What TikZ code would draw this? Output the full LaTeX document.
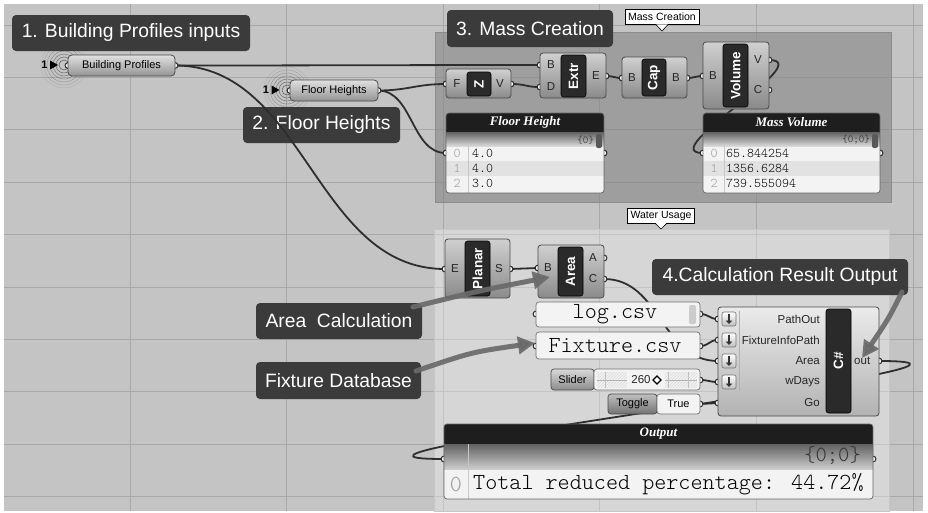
\documentclass[tikz,border=0pt]{standalone}
\usepackage{fontspec}
\setmainfont{Liberation Sans}
\newfontfamily\ghmono{Latin Modern Mono Light}
\newfontfamily\ghserif{Liberation Serif}
\usetikzlibrary{arrows.meta,patterns}

\definecolor{canvas}{HTML}{C4C4C4}
\definecolor{gridc}{HTML}{A8A8A8}
\definecolor{notec}{HTML}{3B3B3B}
\definecolor{wirec}{HTML}{2E2E2E}
\definecolor{edgec}{HTML}{4A4A4A}
\definecolor{compT}{HTML}{D0D0D0}
\definecolor{compB}{HTML}{8A8A8A}
\definecolor{corec}{HTML}{2A2A2A}
\definecolor{hintc}{HTML}{6A6A6A}
\definecolor{rowA}{HTML}{F3F3F3}
\definecolor{rowB}{HTML}{E2E2E2}
\definecolor{idxc}{HTML}{9A9A9A}
\definecolor{titlec}{HTML}{1E1E1E}

\tikzset{
  note/.style={fill=notec, rounded corners=4pt, text=white, inner sep=0pt,
    font=\fontsize{19.3}{21}\selectfont},
  comp/.style={draw=edgec, line width=0.8pt, rounded corners=3pt,
    top color=compT, bottom color=compB, inner sep=0pt},
  core/.style={fill=corec, draw=black, line width=0.6pt, rounded corners=2.5pt, inner sep=0pt},
  coretext/.style={text=white, font=\bfseries\fontsize{13.5}{13.5}\selectfont, rotate=90, inner sep=0pt},
  plabel/.style={font=\fontsize{11.5}{11.5}\selectfont, text=black!85, inner sep=0pt},
  param/.style={draw=edgec, line width=0.8pt, rounded corners=4pt,
    top color=black!12, bottom color=black!42, inner sep=0pt,
    font=\fontsize{11}{11}\selectfont},
  portc/.style={draw=black!85, fill=white, line width=1pt},
  wire/.style={draw=wirec, line width=1.8pt},
  hint/.style={draw=hintc, line width=5pt, line cap=round, opacity=.92,
    -{Triangle[length=17pt,width=17pt]}},
  tip/.style={draw=black, fill=white, line width=.6pt, inner xsep=3pt, inner ysep=0pt,
    minimum height=15pt, font=\fontsize{10.5}{10.5}\selectfont},
  strpanel/.style={draw=black!55, fill=rowA, rounded corners=3pt, line width=.7pt, inner sep=0pt},
  btn/.style={draw=edgec, line width=.7pt, rounded corners=3pt, top color=black!15,
    bottom color=black!45, inner sep=0pt, font=\fontsize{11}{11}\selectfont},
  valbox/.style={draw=black!55, line width=.7pt, rounded corners=3pt, fill=rowA,
    inner sep=0pt, font=\fontsize{11}{11}\selectfont},
  icon/.style={draw=black!55, line width=.6pt, rounded corners=2pt, top color=white,
    bottom color=black!25, minimum width=14pt, minimum height=14pt, inner sep=0pt},
  monosm/.style={font=\ghmono\fontsize{13.3}{13.3}\selectfont, inner sep=0pt},
  monobig/.style={font=\ghmono\fontsize{23}{23}\selectfont, inner sep=0pt},
  ptitle/.style={font=\ghserif\bfseries\itshape\fontsize{13}{13}\selectfont, text=white, inner sep=0pt},
}

\begin{document}
\begin{tikzpicture}[x=1pt,y=-1pt]
\useasboundingbox (0,0) rectangle (928,512);
\fill[white] (0,0) rectangle (928,512);
\fill[canvas] (4,4) rectangle (923,511);

% canvas grid
\begin{scope}
  \clip (4,4) rectangle (923,511);
  \foreach \gx in {130,286.6,443.2,599.8,756.4,913}
    \draw[gridc, line width=.8pt] (\gx,4) -- (\gx,511);
  \foreach \gy in {25,77.4,129.8,182.2,234.6,287,339.4,391.8,444.2,496.6}
    \draw[gridc, line width=.8pt] (4,\gy) -- (923,\gy);
\end{scope}

% groups
\fill[black!50, opacity=.55] (435,32) rectangle (891,202);
\draw[black!45, line width=.6pt] (435,32) rectangle (891,202);
\fill[white, opacity=.32] (434,229) rectangle (889,511);
\draw[black!22, line width=.6pt] (434,229) rectangle (889,511);

% group tooltips
\node[tip] (tipmc) at (662,17) {Mass Creation};
\fill[white] (656,24.4) -- (662,31) -- (668,24.4) -- cycle;
\draw[line width=.6pt] (656,24.6) -- (662,31) -- (668,24.6);
\node[tip] (tipwu) at (661,215.5) {Water Usage};
\fill[white] (655,222.9) -- (661,229) -- (667,222.9) -- cycle;
\draw[line width=.6pt] (655,223.1) -- (661,229) -- (667,223.1);

% ripples around the input parameters
\foreach \r/\o in {5/.55,8/.45,11/.38,14/.3,17/.22,20/.14,23/.08}{
  \draw[black, opacity=\o, line width=.5pt] (64,65) circle[radius=\r pt];
  \draw[black, opacity=\o, line width=.5pt] (287,90) circle[radius=\r pt];
}

% note that the wires run across
\node[note, minimum width=157pt, minimum height=36pt] (n2) at (321.5,125) {2. Floor Heights};

% port positions
\coordinate (bp-in) at (68,65.5);
\coordinate (bp-out) at (175,65.5);
\coordinate (fh-in) at (290,90.5);
\coordinate (fh-out) at (378,90.5);
\coordinate (uz-F) at (446,84);
\coordinate (uz-V) at (511,84);
\coordinate (ex-B) at (540,65);
\coordinate (ex-D) at (540,87);
\coordinate (ex-E) at (606,76);
\coordinate (cp-B) at (622,78);
\coordinate (cp-Bo) at (687,78);
\coordinate (vo-B) at (703,76);
\coordinate (vo-V) at (769,60);
\coordinate (vo-C) at (769,90);
\coordinate (fp-in) at (446,153);
\coordinate (fp-out) at (604,153);
\coordinate (mv-in) at (703,153);
\coordinate (mv-out) at (880,153);
\coordinate (pl-E) at (445,269);
\coordinate (pl-S) at (510,269);
\coordinate (ar-B) at (538,268);
\coordinate (ar-A) at (604,258);
\coordinate (ar-C) at (604,279);
\coordinate (lg-in) at (536,314);
\coordinate (lg-out) at (700,314);
\coordinate (fx-in) at (536,346);
\coordinate (fx-out) at (700,346);
\coordinate (sl-out) at (700,380);
\coordinate (tg-out) at (700,404);
\coordinate (cs-1) at (718,319);
\coordinate (cs-2) at (718,340);
\coordinate (cs-3) at (718,361);
\coordinate (cs-4) at (718,382);
\coordinate (cs-5) at (718,403);
\coordinate (cs-out) at (879,361);
\coordinate (op-in) at (444,459);
\coordinate (op-out) at (873,459);

% wires
\draw[wire] (bp-out) .. controls +(120,0) and +(-120,0) .. (ex-B);
\draw[wire] (bp-out) .. controls +(130,0) and +(-130,0) .. (pl-E);
\draw[wire] (fh-out) .. controls +(30,0) and +(-30,0) .. (uz-F);
\draw[wire] (fh-out) .. controls +(35,0) and +(-35,0) .. (fp-in);
\draw[wire] (uz-V) .. controls +(15,0) and +(-15,0) .. (ex-D);
\draw[wire] (ex-E) .. controls +(8,0) and +(-8,0) .. (cp-B);
\draw[wire] (cp-Bo) .. controls +(8,0) and +(-8,0) .. (vo-B);
\draw[wire] (vo-V) .. controls +(50,0) and +(-50,0) .. (mv-in);
\draw[wire] (pl-S) .. controls +(14,0) and +(-14,0) .. (ar-B);
\draw[wire] (ar-C) .. controls +(57,0) and +(-57,0) .. (cs-3);
\draw[wire] (lg-out) .. controls +(9,0) and +(-9,0) .. (cs-1);
\draw[wire] (fx-out) .. controls +(9,0) and +(-9,0) .. (cs-2);
\draw[wire] (sl-out) .. controls +(9,0) and +(-9,0) .. (cs-4);
\draw[wire] (tg-out) .. controls +(9,0) and +(-9,0) .. (cs-5);
\draw[wire] (cs-out) .. controls +(200,0) and +(-200,0) .. (op-in);

% ports
\foreach \p in {bp-in,bp-out,fh-in,fh-out,uz-F,uz-V,ex-B,ex-D,ex-E,cp-B,cp-Bo,vo-B,vo-V,vo-C,
  fp-in,fp-out,mv-in,mv-out,pl-E,pl-S,ar-B,ar-A,ar-C,lg-in,lg-out,fx-in,fx-out,sl-out,tg-out,
  cs-1,cs-2,cs-3,cs-4,cs-5,cs-out,op-in,op-out}
  \filldraw[portc] (\p) circle[radius=2.9pt];

% input parameters
\node[font=\bfseries\fontsize{11}{11}\selectfont, inner sep=0pt] (one1) at (44.5,65) {1};
\fill (50,60.5) -- (58,65) -- (50,69.5) -- cycle;
\node[param, minimum width=107pt, minimum height=21pt] (bp) at (121.5,65.5) {Building Profiles};
\node[font=\bfseries\fontsize{11}{11}\selectfont, inner sep=0pt] (one2) at (266,90) {1};
\fill (271.5,85.5) -- (279.5,90) -- (271.5,94.5) -- cycle;
\node[param, minimum width=88pt, minimum height=21pt] (fh) at (334,90.5) {Floor Heights};

% Unit Z
\node[comp, minimum width=65pt, minimum height=29pt] (uz) at (478.5,83.5) {};
\node[core, minimum width=24pt, minimum height=24pt] (uzc) at (479,84) {};
\node[coretext] (uzt) at (uzc) {Z};
\node[plabel] (uzf) at (457,84) {F};
\node[plabel] (uzv) at (500,84) {V};

% Extrude
\node[comp, minimum width=66pt, minimum height=45pt] (ex) at (573,75.5) {};
\node[core, minimum width=25pt, minimum height=42pt] (exc) at (573.5,76) {};
\node[coretext] (ext) at (exc) {Extr};
\node[plabel] (exb) at (551,65) {B};
\node[plabel] (exd) at (551,87) {D};
\node[plabel] (exe) at (596,76) {E};

% Cap
\node[comp, minimum width=65pt, minimum height=41pt] (cp) at (654.5,77.5) {};
\node[core, minimum width=24pt, minimum height=37pt] (cpc) at (654,77.5) {};
\node[coretext] (cpt) at (cpc) {Cap};
\node[plabel] (cpb) at (632,78) {B};
\node[plabel] (cpbo) at (676,78) {B};

% Volume
\node[comp, minimum width=66pt, minimum height=67pt] (vo) at (736,75.5) {};
\node[core, minimum width=25pt, minimum height=63pt] (voc) at (735.5,75.5) {};
\node[coretext] (vot) at (voc) {Volume};
\node[plabel] (vob) at (713,76) {B};
\node[plabel] (vov) at (758,60) {V};
\node[plabel] (voc2) at (758,90) {C};

% Floor Height panel
\begin{scope}
  \clip[rounded corners=3pt] (446,113) rectangle (604,193);
  \fill[rowA] (446,113) rectangle (604,193);
  \fill[titlec] (446,113) rectangle (604,132);
  \shade[top color=black!62, bottom color=black!15] (446,132) rectangle (604,146);
  \fill[rowB] (446,161) rectangle (604,176);
  \draw[black!22, line width=.5pt] (468,146) -- (468,193);
\end{scope}
\draw[black!60, line width=.7pt, rounded corners=3pt] (446,113) rectangle (604,193);
\fill[black!65, rounded corners=2pt] (596,134) rectangle (602,148);
\node[ptitle] (fpt) at (525,122.5) {Floor Height};
\node[monosm, font=\ghmono\fontsize{10.5}{10.5}\selectfont, text=black!85, anchor=east] (fpk) at (594,140) {\{0\}};
\foreach \i/\v/\yy in {0/4.0/153.5,1/4.0/168.5,2/3.0/183.5}{
  \node[monosm, text=idxc] at (457,\yy) {\i};
  \node[monosm, anchor=west] at (472,\yy) {\v};
}

% Mass Volume panel
\begin{scope}
  \clip[rounded corners=3pt] (703,113) rectangle (880,193);
  \fill[rowA] (703,113) rectangle (880,193);
  \fill[titlec] (703,113) rectangle (880,132);
  \shade[top color=black!62, bottom color=black!15] (703,132) rectangle (880,146);
  \fill[rowB] (703,161) rectangle (880,176);
  \draw[black!22, line width=.5pt] (724,146) -- (724,193);
\end{scope}
\draw[black!60, line width=.7pt, rounded corners=3pt] (703,113) rectangle (880,193);
\fill[black!65, rounded corners=2pt] (872,134) rectangle (878,148);
\node[ptitle] (mvt) at (791.5,122.5) {Mass Volume};
\node[monosm, font=\ghmono\fontsize{10.5}{10.5}\selectfont, text=black!85, anchor=east] (mvk) at (870,140) {\{0;0\}};
\foreach \i/\v/\yy in {0/65.844254/153.5,1/1356.6284/168.5,2/739.555094/183.5}{
  \node[monosm, text=idxc] at (714,\yy) {\i};
  \node[monosm, anchor=west] at (726,\yy) {\v};
}

% Planar surface
\node[comp, minimum width=65pt, minimum height=59pt] (pl) at (477.5,268.5) {};
\node[core, minimum width=25pt, minimum height=55pt] (plc) at (477.5,268.5) {};
\node[coretext] (plt) at (plc) {Planar};
\node[plabel] (ple) at (455,269) {E};
\node[plabel] (pls) at (499,269) {S};

% Area
\node[comp, minimum width=66pt, minimum height=53pt] (ar) at (571,271.5) {};
\node[core, minimum width=25pt, minimum height=49pt] (arc) at (570.5,271.5) {};
\node[coretext] (art) at (arc) {Area};
\node[plabel] (arb) at (548,268) {B};
\node[plabel] (ara) at (593,258) {A};
\node[plabel] (arcl) at (593,279) {C};

% file path panels
\node[strpanel, minimum width=164pt, minimum height=25pt] (lg) at (618,314.5) {};
\fill[black!20, rounded corners=2pt] (689,305) rectangle (696,324);
\node[monobig] (lgt) at (615,314) {log.csv};
\node[strpanel, minimum width=164pt, minimum height=27pt] (fx) at (618,345.5) {};
\node[monobig] (fxt) at (615,345.5) {Fixture.csv};

% number slider
\node[btn, minimum width=43pt, minimum height=21pt] (slb) at (572.5,379.5) {Slider};
\node[valbox, minimum width=106pt, minimum height=21pt] (slt) at (647,379.5) {};
\fill[pattern=north east lines, pattern color=black!15] (597,372) rectangle (697,387);
\draw[black!30, line width=.5pt] (597,380) -- (697,380);
\foreach \tx in {605,630,668,688}
  \draw[black!25, line width=.5pt] (\tx,371.5) -- (\tx,387.5);
\fill[rowA] (627,372) rectangle (665,388);
\node[plabel] (slv) at (641,380) {260};
\draw[line width=1.3pt, fill=white] (657,376) -- (661,380) -- (657,384) -- (653,380) -- cycle;

% boolean toggle
\node[btn, top color=black!25, bottom color=black!55, minimum width=49pt, minimum height=20pt] (tgb) at (632.5,404) {Toggle};
\node[valbox, minimum width=43pt, minimum height=20pt] (tgv) at (678.5,404) {True};

% C# script component
\node[comp, top color=black!8, bottom color=black!30, minimum width=161pt, minimum height=109pt] (cs) at (798.5,361.5) {};
\node[core, minimum width=25pt, minimum height=104pt] (csc) at (838.5,361) {};
\node[coretext] (cst) at (csc) {C\#};
\draw[black!30, line width=.6pt] (739.5,311) -- (739.5,391);
\foreach \k/\yy in {1/319,2/340,3/361,4/382}{
  \node[icon] (ic\k) at (729,\yy) {};
  \draw[black!80, line width=1.5pt, -{Triangle[length=3.5pt,width=6.5pt]}] (729,\yy-5) -- (729,\yy+5);
}
\node[plabel, anchor=east] (csl1) at (820,319) {PathOut};
\node[plabel, anchor=east] (csl2) at (820,340) {FixtureInfoPath};
\node[plabel, anchor=east] (csl3) at (820,361) {Area};
\node[plabel, anchor=east] (csl4) at (820,382) {wDays};
\node[plabel, anchor=east] (csl5) at (820,403) {Go};
\node[plabel, anchor=west] (cslo) at (854,361) {out};

% Output panel
\begin{scope}
  \clip[rounded corners=3pt] (444,424) rectangle (873,499);
  \fill[rowA] (444,424) rectangle (873,499);
  \fill[titlec] (444,424) rectangle (873,444);
  \shade[top color=black!62, bottom color=black!20] (444,444) rectangle (873,469);
  \draw[black!22, line width=.5pt] (468,444) -- (468,499);
\end{scope}
\draw[black!60, line width=.7pt, rounded corners=3pt] (444,424) rectangle (873,499);
\node[ptitle] (opt) at (658.5,434) {Output};
\node[monobig, font=\ghmono\fontsize{21.5}{21.5}\selectfont, text=black!80, anchor=east] (opk) at (861,456) {\{0;0\}};
\node[monobig, text=idxc] (opi) at (456,484) {0};
\node[monobig, anchor=west] (opv) at (473,484) {Total reduced percentage: 44.72\%};

% notes
\node[note, minimum width=238pt, minimum height=36pt] (n1) at (131,33) {1. Building Profiles inputs};
\node[note, minimum width=166pt, minimum height=37pt] (n3) at (530,28.5) {3. Mass Creation};
\node[note, minimum width=256pt, minimum height=36pt] (n4) at (780,277) {4.Calculation Result Output};
\node[note, minimum width=166pt, minimum height=36pt] (na) at (339,321) {Area\ \ Calculation};
\node[note, minimum width=165pt, minimum height=37pt] (nf) at (338.5,380.5) {Fixture Database};

% pointer arrows
\coordinate (ha-s) at (413,307);
\coordinate (ha-e) at (550,277);
\coordinate (hf-s) at (416,371);
\coordinate (hf-e) at (535,343);
\coordinate (hc-s) at (902,292);
\coordinate (hc-e) at (862,358);
\draw[hint] (ha-s) .. controls (478,291) .. (ha-e);
\draw[hint] (hf-s) .. controls (472,352) .. (hf-e);
\draw[hint] (hc-s) .. controls (889,318) .. (hc-e);
\end{tikzpicture}
\end{document}
